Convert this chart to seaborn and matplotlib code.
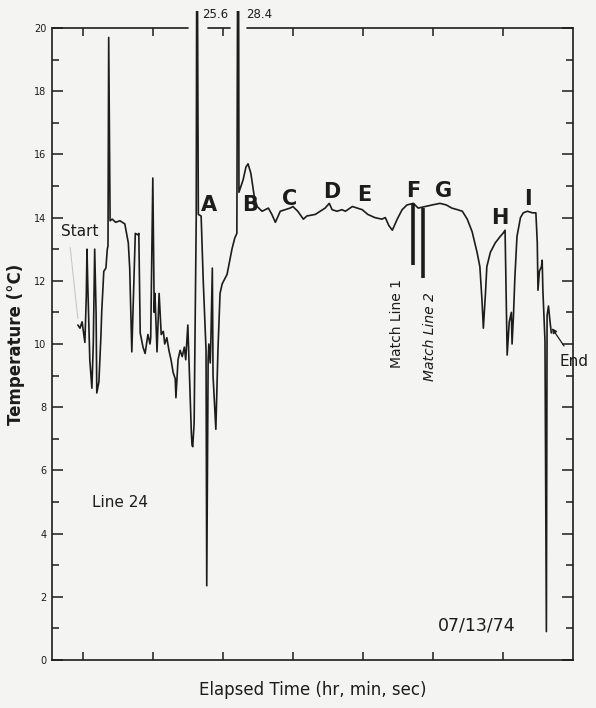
import pandas as pd
import seaborn as sns
import matplotlib.pyplot as plt
from matplotlib.transforms import Bbox, TransformedBbox

# Temperature trace (elapsed in arbitrary units)
elapsed = [3.7, 4.0, 4.3, 4.6, 4.7, 4.9, 5.0, 5.1, 5.4, 5.7, 5.9, 6.1, 6.3, 6.4, 6.7,
           7.0, 7.1, 7.4, 7.7, 7.9, 8.0, 8.1, 8.3, 8.6, 9.1, 9.7, 10.4, 10.9, 11.1, 11.4,
           11.7, 11.9, 12.3, 12.4, 12.6, 13.0, 13.3, 13.7, 14.0, 14.1, 14.4, 14.6, 14.7, 15.0,
           15.3, 15.6, 15.9, 16.1, 16.4, 16.7, 17.0, 17.3, 17.6, 17.7, 18.0, 18.3, 18.6, 18.9,
           19.1, 19.4, 19.6, 19.7, 19.9, 20.0, 20.1, 20.3, 20.6, 20.7, 20.9, 21.3, 21.6, 21.9,
           22.0, 22.1, 22.3, 22.4, 22.6, 22.7, 22.9, 23.0, 23.4, 23.7, 24.0, 24.3, 25.0, 25.7,
           26.1, 26.4, 26.6, 26.7, 27.3, 27.7, 28.0, 28.4, 28.9, 29.3, 30.0, 30.9, 31.4, 31.9,
           32.6, 33.3, 34.0, 34.4, 35.1, 35.9, 36.4, 37.6, 38.3, 39.0, 39.6, 40.0, 40.7, 41.4,
           41.9, 42.9, 43.6, 44.3, 45.1, 46.1, 47.1, 47.6, 48.1, 48.6, 49.3, 50.0, 50.7, 51.6,
           52.3, 53.3, 54.3, 55.4, 56.3, 57.1, 57.9, 58.6, 59.3, 60.0, 60.7, 61.1, 61.4, 61.6,
           61.9, 62.1, 62.6, 63.3, 64.0, 64.4, 64.7, 65.0, 65.3, 65.6, 65.7, 65.9, 66.1, 66.4,
           66.9, 67.3, 67.9, 68.6, 69.1, 69.3, 69.4, 69.6, 69.9, 70.0, 70.1, 70.4, 70.6, 70.7,
           70.9, 71.1, 71.3]
temperature = [10.6, 10.5, 10.7, 10.2, 10.05, 11.5, 13.0, 12.0, 9.5, 8.6, 10.0, 13.0, 11.0, 8.45, 8.8,
               10.3, 11.0, 12.3, 12.4, 13.0, 13.1, 19.7, 13.9, 13.95, 13.85, 13.9, 13.8, 13.2, 12.4, 9.75,
               12.0, 13.5, 13.45, 13.5, 10.35, 9.9, 9.7, 10.3, 10.0, 10.2, 15.25, 11.0, 11.6, 9.75,
               11.6, 10.3, 10.4, 10.0, 10.2, 9.8, 9.5, 9.1, 8.9, 8.3, 9.5, 9.8, 9.6, 9.9,
               9.5, 10.6, 9.2, 8.5, 7.2, 6.8, 6.75, 7.5, 14.0, 25.6, 14.1, 14.05, 12.0, 10.4,
               9.8, 2.35, 9.5, 10.0, 9.4, 10.2, 12.4, 9.0, 7.3, 9.8, 11.6, 11.9, 12.2, 13.0,
               13.35, 13.5, 28.4, 14.8, 15.2, 15.6, 15.7, 15.4, 14.65, 14.35, 14.2, 14.3, 14.1, 13.85,
               14.2, 14.25, 14.3, 14.35, 14.2, 13.95, 14.05, 14.1, 14.2, 14.3, 14.45, 14.25, 14.2, 14.25,
               14.2, 14.35, 14.3, 14.25, 14.1, 14.0, 13.95, 14.0, 13.75, 13.6, 13.95, 14.25, 14.4, 14.45,
               14.3, 14.35, 14.4, 14.45, 14.4, 14.3, 14.25, 14.2, 13.95, 13.55, 12.9, 12.45, 11.4, 10.5,
               11.6, 12.45, 12.9, 13.2, 13.4, 13.5, 13.6, 9.65, 10.7, 11.0, 10.0, 10.9, 12.1, 13.4,
               14.0, 14.15, 14.2, 14.15, 14.15, 13.2, 11.7, 12.3, 12.45, 12.65, 11.7, 10.1, 0.9, 10.9,
               11.2, 10.75, 10.35]

# Match line markers
match_x = [51.6, 53.0]
match_low = [12.5, 12.1]
match_high = [14.45, 14.3]

# Segment letters and positions
letters = ['A', 'B', 'C', 'D', 'E', 'F', 'G', 'H', 'I']
letter_x = [22.4, 28.3, 34.0, 39.9, 44.6, 51.6, 55.9, 64.0, 68.0]
letter_y = [14.4, 14.4, 14.6, 14.8, 14.7, 14.85, 14.85, 14.0, 14.6]

# Off-scale peaks
peak_labels = ['25.6', '28.4']
peak_x = [23.3, 29.6]

df = pd.DataFrame({'elapsed': elapsed, 'temperature': temperature})

sns.set_style('ticks')
plt.rcParams['font.family'] = ['DejaVu Sans']
ink = '#1c1c1c'
bg = '#f4f4f2'

fig = plt.figure(figsize=(5.96, 7.08), dpi=100, facecolor=bg)
ax = fig.add_axes([0.0872, 0.0678, 0.8742, 0.8927], facecolor=bg)

sns.lineplot(data=df, x='elapsed', y='temperature', sort=False, estimator=None,
             color=ink, lw=1.2, ax=ax)
# let the off-scale spikes poke slightly above the frame
ax.lines[0].set_clip_box(TransformedBbox(Bbox([[0, -0.3], [74.4, 20.55]]), ax.transData))

ax.vlines(match_x, match_low, match_high, color=ink, lw=2.6)

ax.set_xlim(0, 74.4)
ax.set_ylim(0, 20)

# broken top frame around the peak labels
ax.spines['top'].set_visible(False)
for x0, x1 in [(0, 19.4), (22.3, 25.4), (27.9, 74.4)]:
    ax.plot([x0, x1], [20, 20], color=ink, lw=1.2, clip_on=False)
for sp in ['left', 'bottom', 'right']:
    ax.spines[sp].set_color(ink)
    ax.spines[sp].set_linewidth(1.2)

ax.set_xticks([4.4 + 10 * k for k in range(7)])
ax.set_xticklabels([])
ax.tick_params(axis='x', top=True, bottom=True, direction='in', length=6, width=1.1, color=ink)
ax.set_yticks(range(0, 21, 2))
ax.set_yticks(range(1, 21, 2), minor=True)
ax.tick_params(axis='y', which='both', left=True, right=True, direction='in', width=1.1, color=ink)
ax.tick_params(axis='y', which='major', length=8, labelsize=7, pad=4, labelcolor=ink)
ax.tick_params(axis='y', which='minor', length=5)

ax.set_ylabel('Temperature (°C)', fontsize=12, fontweight='bold', color=ink)
ax.yaxis.set_label_coords(-0.052, 0.5)
ax.set_xlabel('Elapsed Time (hr, min, sec)', fontsize=12, color=ink)
ax.xaxis.set_label_coords(0.5, -0.034)

for lab, x, y in zip(letters, letter_x, letter_y):
    ax.text(x, y, lab, fontsize=15, fontweight='bold', ha='center', va='center', color=ink)

for lab, x in zip(peak_labels, peak_x):
    ax.text(x, 20.42, lab, fontsize=8.5, ha='center', va='center', color=ink, clip_on=False)

ax.text(3.9, 13.55, 'Start', fontsize=11, ha='center', va='center', color=ink)
ax.plot([2.6, 3.7], [13.05, 10.8], color='#c8c8c8', lw=0.8)
ax.annotate('End', xy=(71.4, 10.5), xytext=(74.6, 9.45), fontsize=11, ha='center',
            va='center', color=ink, annotation_clip=False,
            arrowprops=dict(arrowstyle='-|>', color=ink, lw=0.9, mutation_scale=7,
                            shrinkA=4, shrinkB=0))
ax.text(9.7, 4.97, 'Line 24', fontsize=11, ha='center', va='center', color=ink)
ax.text(60.7, 1.1, '07/13/74', fontsize=12.5, ha='center', va='center', color=ink)
ax.text(49.3, 10.65, 'Match Line 1', fontsize=10, rotation=90, ha='center', va='center', color=ink)
ax.text(54.0, 10.25, 'Match Line 2', fontsize=10, rotation=90, style='italic',
        ha='center', va='center', color=ink)

fig.savefig('out.png', dpi=100, facecolor=bg)
